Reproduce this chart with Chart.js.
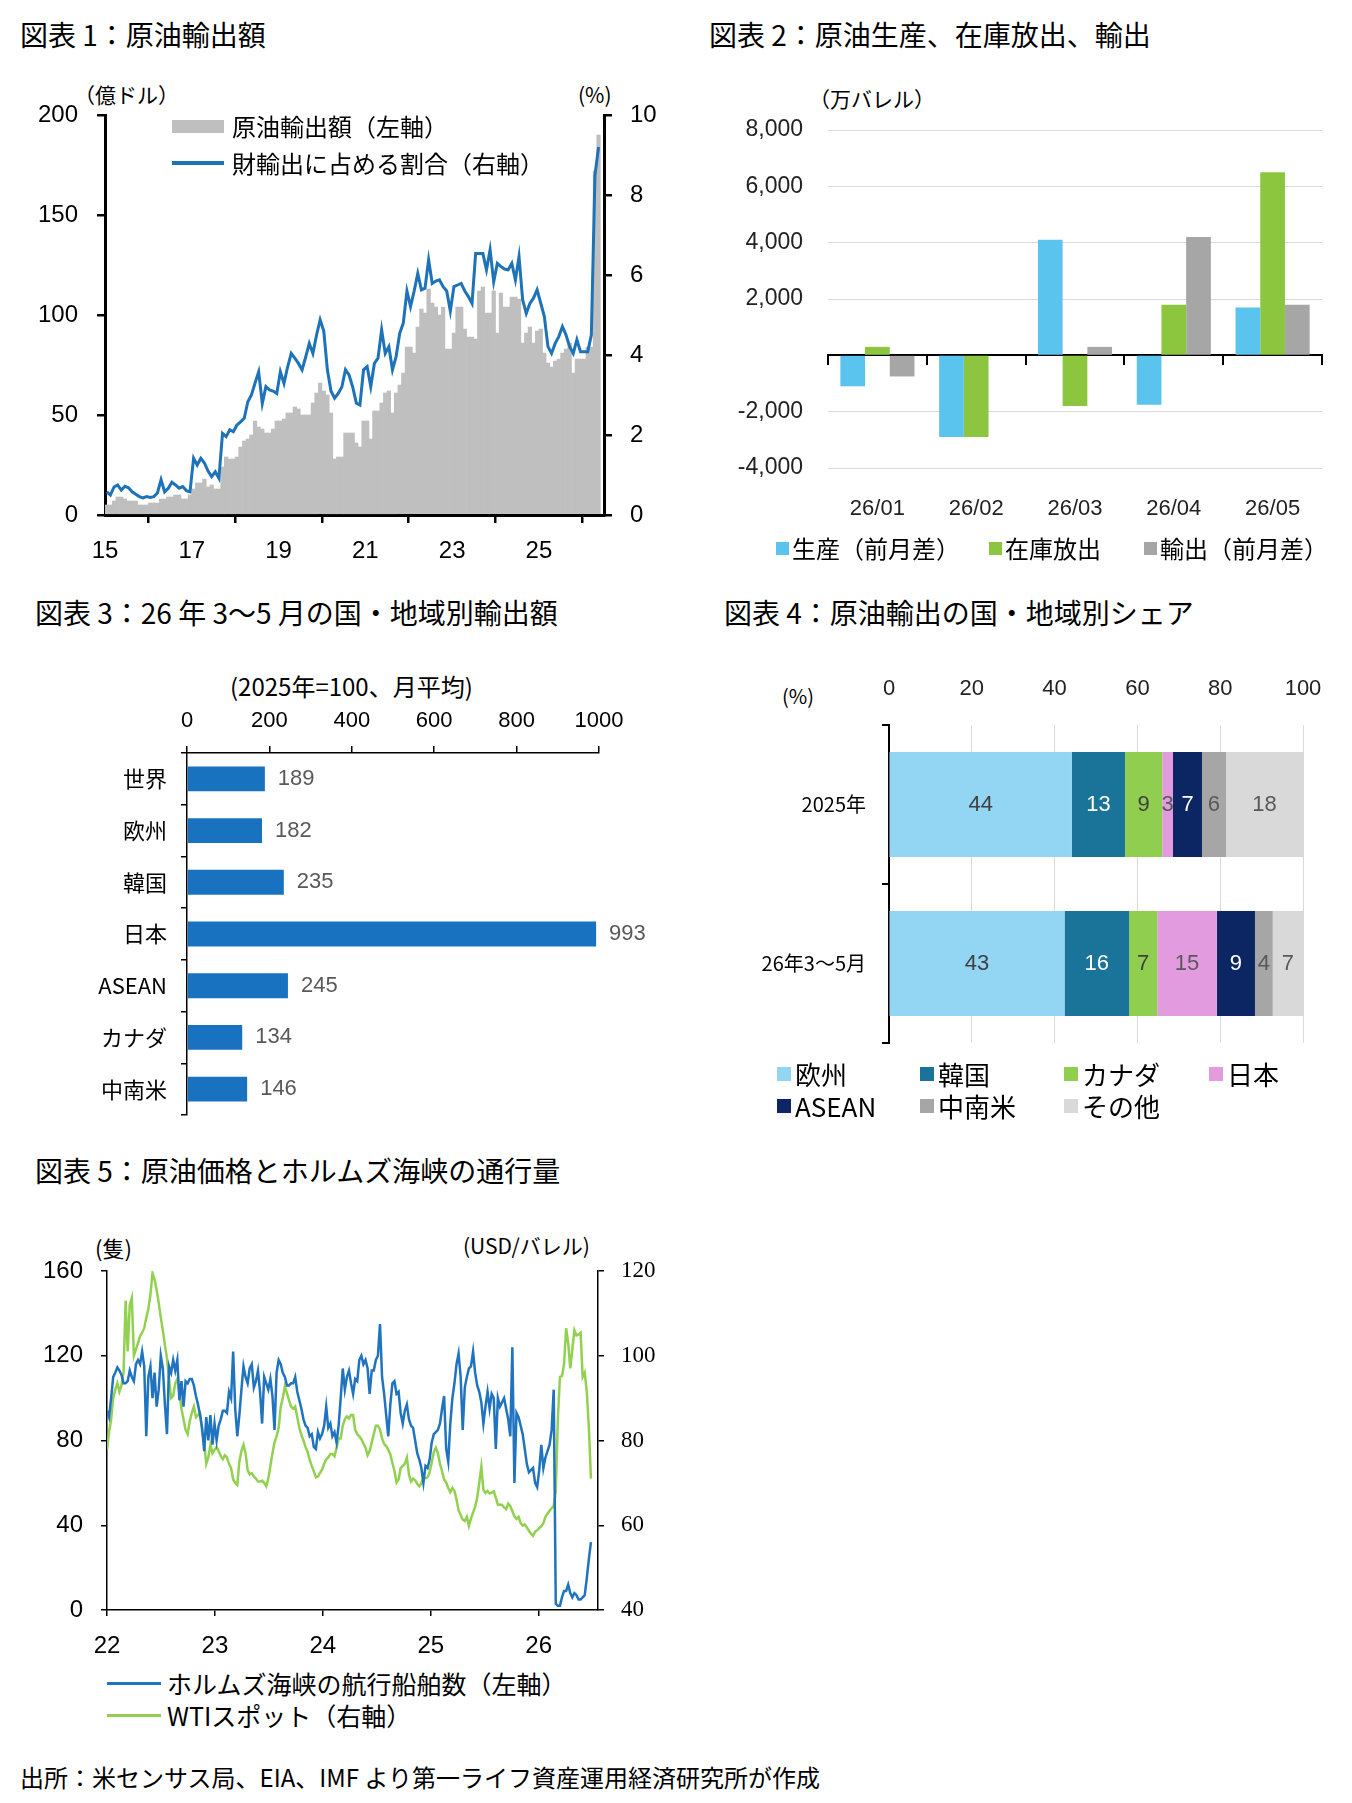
<!DOCTYPE html>
<html lang="ja">
<head>
<meta charset="utf-8">
<script src="https://cdn.jsdelivr.net/npm/chart.js@4.4.1/dist/chart.umd.min.js"></script>
<style>
  body { margin: 0; background: #fff; }
  #page { position: relative; width: 1352px; height: 1803px; overflow: hidden; background: #fff;
          font-family: "Noto Sans CJK JP", sans-serif; color: #000; }
  #page canvas { position: absolute; }
  .title { position: absolute; font-size: 28px; line-height: 1; white-space: nowrap; }
  .unit { position: absolute; font-size: 20px; line-height: 1; white-space: nowrap; }
  .lg { position: absolute; line-height: 1; white-space: nowrap; display: flex; align-items: center; }
  .sw { display: inline-block; flex: none; }
</style>
</head>
<body>
<div id="page">
  <div class="title" style="left:20px;top:20px">図表 1：原油輸出額</div>
  <div class="title" style="left:709px;top:20px">図表 2：原油生産、在庫放出、輸出</div>
  <div class="title" style="left:35px;top:598px">図表 3：26 年 3～5 月の国・地域別輸出額</div>
  <div class="title" style="left:724px;top:598px">図表 4：原油輸出の国・地域別シェア</div>
  <div class="title" style="left:35px;top:1156px">図表 5：原油価格とホルムズ海峡の通行量</div>
  <div class="title" style="left:20px;top:1765px;font-size:24px">出所：米センサス局、EIA、IMF より第一ライフ資産運用経済研究所が作成</div>

  <div class="unit" style="left:74px;top:84px;font-size:21px">（億ドル）</div>
  <div class="unit" style="left:578px;top:84px;font-size:21px">(%)</div>
  <div class="unit" style="left:809px;top:88px;font-size:21px">（万バレル）</div>
  <div class="unit" style="left:230px;top:674px;font-size:24px">(2025年=100、月平均)</div>
  <div class="unit" style="left:782px;top:686px">(%)</div>
  <div class="unit" style="left:95px;top:1236px;font-size:22px">(隻)</div>
  <div class="unit" style="left:463px;top:1235px;font-size:21px">(USD/バレル)</div>

  <canvas id="c1" width="680" height="500" style="left:0;top:80px"></canvas>
  <canvas id="c2" width="662" height="500" style="left:690px;top:80px"></canvas>
  <canvas id="c3" width="680" height="510" style="left:0;top:640px"></canvas>
  <canvas id="c4" width="662" height="443" style="left:690px;top:640px"></canvas>
  <canvas id="c5" width="680" height="430" style="left:0;top:1230px"></canvas>
</div>
<script>
// ---------- data ----------
// 図表1: monthly, 2015/01 - 2026/05
const exportYearTicks = [2015, 2017, 2019, 2021, 2023, 2025];
const crudeExportValue = [
  5, 5, 7, 9, 9, 8, 7, 7, 7, 5, 5, 5,
  6, 6, 6, 8, 8, 9, 9, 10, 10, 8, 8, 10,
  13, 16, 16, 18, 14, 15, 13, 13, 24, 29, 28, 28,
  29, 34, 37, 38, 40, 47, 44, 43, 41, 41, 43, 47,
  47, 48, 51, 51, 54, 53, 50, 50, 50, 56, 61, 66,
  62, 60, 51, 28, 29, 29, 41, 41, 41, 36, 34, 47,
  47, 38, 52, 52, 56, 61, 62, 51, 61, 65, 71, 84,
  84, 81, 94, 103, 101, 113, 106, 104, 100, 104, 83, 83,
  91, 104, 104, 93, 89, 89, 88, 112, 114, 101, 101, 112,
  91, 111, 104, 104, 109, 109, 108, 86, 91, 94, 86, 92,
  93, 81, 76, 74, 77, 78, 81, 83, 86, 71, 78, 78,
  78, 84, 84, 172, 190
];
const crudeExportShare = [
  0.58, 0.50, 0.70, 0.75, 0.62, 0.72, 0.68, 0.58, 0.52, 0.46, 0.43, 0.46,
  0.44, 0.46, 0.55, 0.88, 0.58, 0.67, 0.82, 0.75, 0.67, 0.71, 0.61, 0.58,
  1.42, 1.25, 1.42, 1.30, 1.10, 0.96, 1.08, 0.92, 2.04, 1.96, 2.13, 2.08,
  2.25, 2.33, 2.42, 2.83, 3.00, 3.30, 3.58, 2.79, 3.21, 3.13, 3.10, 3.04,
  3.58, 3.29, 3.70, 4.04, 3.92, 3.79, 3.63, 3.95, 4.29, 4.04, 4.50, 4.88,
  4.60, 3.63, 3.10, 2.92, 3.04, 3.20, 3.63, 3.50, 3.20, 2.80, 2.75, 3.63,
  3.71, 3.21, 3.79, 3.92, 4.63, 4.04, 4.21, 3.63, 3.96, 4.54, 4.80, 5.60,
  5.21, 5.60, 6.04, 5.63, 5.67, 6.38, 5.79, 5.85, 5.88, 5.71, 5.60, 5.10,
  5.71, 5.75, 5.79, 5.60, 5.46, 5.29, 6.54, 6.54, 6.54, 6.13, 6.63, 5.83,
  6.29, 6.21, 6.15, 6.13, 6.29, 5.88, 6.46, 5.38, 5.04, 5.29, 5.42, 5.63,
  5.30, 4.96, 4.21, 4.04, 4.29, 4.46, 4.71, 4.50, 4.21, 4.04, 4.38, 4.08,
  4.08, 4.08, 4.50, 8.50, 9.20
];

// 図表2
const supplyMonths = ['26/01', '26/02', '26/03', '26/04', '26/05'];
const productionChange = [-1100, -2900, 4100, -1750, 1700];
const stockRelease = [300, -2900, -1800, 1800, 6500];
const exportChange = [-750, 0, 300, 4200, 1800];

// 図表3
const exportRegions = ['世界', '欧州', '韓国', '日本', 'ASEAN', 'カナダ', '中南米'];
const exportIndex = [189, 182, 235, 993, 245, 134, 146];

// 図表4
const sharePeriods = ['2025年', '26年3～5月'];
const shareRegions = ['欧州', '韓国', 'カナダ', '日本', 'ASEAN', '中南米', 'その他'];
const share2025 = [44.2, 12.8, 9.0, 2.6, 7.0, 5.8, 18.6];
const share2026 = [42.4, 15.6, 6.8, 14.4, 9.2, 4.3, 7.3];
const shareText2025 = ['44', '13', '9', '3', '7', '6', '18'];
const shareText2026 = ['43', '16', '7', '15', '9', '4', '7'];

// 図表5: weekly from 2022/01
const shipYearTicks = [2022, 2023, 2024, 2025, 2026];
const shipTransits = [
  94, 91, 100, 110, 112, 114.5, 113, 111, 107, 107,
  108, 113, 110, 108, 116, 118, 116, 122, 115, 82,
  110, 115, 100, 112, 96, 104, 120, 114, 97, 83,
  115, 112, 118, 113, 118, 99, 108, 96, 108, 107,
  109, 109, 106, 101, 97, 92, 86, 75, 91, 80,
  92, 78, 88, 80, 87, 90, 94, 94, 93, 103,
  100, 122, 95, 82, 92, 104, 115, 110, 107, 114,
  116, 105, 108, 113, 103, 88, 110, 107, 104, 109,
  101, 85, 112, 118, 116, 112, 110, 106, 106, 107,
  107, 110, 103, 99, 95, 90, 87, 86, 82, 83,
  77, 76, 84, 81, 83, 87, 96, 86, 88, 82,
  84, 79, 87, 100, 114, 104, 110, 113, 107, 102,
  109, 108, 118, 120, 116, 118, 114, 102, 113, 113,
  118, 120, 135, 110, 102, 92, 82, 97, 107, 108,
  102, 103, 93, 88, 94, 97, 90, 87, 86, 80,
  74, 71, 67, 60, 68, 67, 71, 79, 83, 84,
  85, 88, 95, 101, 76, 70, 88, 100, 107, 116,
  121, 110, 85, 105, 110, 114, 115, 122, 112, 106,
  103, 98, 88, 96, 103, 95, 102, 100, 76, 100,
  96, 98, 100, 95, 90, 82, 124, 60, 93, 91,
  87, 83, 76, 69, 65, 66, 67, 60, 58, 66,
  78, 67, 72, 75, 78, 85, 104, 3, 2, 2,
  6, 9, 9, 12, 8, 6, 8, 7, 5, 5,
  6, 7, 15, 24, 32
];
const wtiSpot = [
  77.8, 82, 85, 90, 92, 93.5, 91.5, 93, 96, 113,
  101, 112, 113.7, 100, 101.5, 103, 104.6, 105.5, 106.5, 109,
  111, 114.5, 119.5, 118, 115.5, 112.5, 109, 106, 102.5, 99.5,
  94.5, 90, 90.5, 93.5, 94.5, 91.5, 87.5, 85, 82.5, 81.5,
  84.5, 86.5, 88, 85.5, 86, 86.5, 82, 79.5, 74.5, 76,
  79, 77, 77.8, 78.5, 77.5, 76.3, 75.6, 76.5, 76, 74.5,
  73.5, 70.8, 70, 69.5, 75, 77.5, 79, 77, 73, 72,
  72.3, 71.5, 71, 70.3, 70.3, 70.5, 70, 69.2, 71, 74,
  77, 79.5, 81, 83, 88, 90, 92.8, 91.2, 89.5, 88,
  87.5, 88, 85.5, 83, 81.3, 80, 78.5, 77.3, 75.4, 74,
  72.7, 71.3, 71.5, 72.4, 73.1, 74.5, 75.5, 76, 76.8, 76.8,
  76.3, 78.3, 80.5, 80.5, 83.5, 85, 85.7, 85.2, 86, 86,
  82.5, 81.5, 81, 80.3, 79.3, 78.3, 76.5, 77.5, 79.5, 81.5,
  83.5, 83.5, 82.6, 80.5, 79.2, 78.7, 77.8, 76.7, 74.7, 72.8,
  70.1, 70.8, 73.5, 74, 74.5, 76, 72, 70.3, 71, 70.6,
  69.8, 69.2, 69.9, 71.2, 71.1, 71.3, 72.5, 74.8, 77.2, 78.3,
  77, 74.5, 72.8, 70.8, 70.1, 68.8, 67.8, 68.8, 68.1, 66.1,
  63.5, 62.4, 61.3, 61, 62, 59.8, 61.6, 63, 64.4, 66.5,
  70, 73.8, 68.4, 67.6, 68.1, 67.5, 67.7, 68, 66.5, 64.8,
  64.9, 64.8, 64.2, 63.8, 65.1, 64.5, 63.3, 62.1, 61.5, 62,
  60.5, 59.9, 60.2, 59.5, 58.7, 58, 57.5, 58.5, 58.8, 59.3,
  59.8, 60.5, 62, 62.7, 63.4, 64, 64.6, 68, 85, 95,
  95.2, 98, 106.5, 103, 97, 101.5, 106, 104.8, 105, 105.4,
  95, 96, 91.5, 83, 71
];

// ---------- helpers ----------
const SANS = '"Liberation Sans", Arial, sans-serif';
const JP = '"Noto Sans CJK JP", sans-serif';
Chart.defaults.font.family = SANS;
Chart.defaults.color = '#000';
Chart.defaults.animation = false;
Chart.defaults.responsive = false;
Chart.defaults.plugins.legend.display = false;
Chart.defaults.plugins.tooltip.enabled = false;

const page = document.getElementById('page');

// legend drawn as html, one item per dataset
function addLegend(chart, spots, swatches, fontSize) {
  chart.data.datasets.forEach((ds, i) => {
    const item = document.createElement('div');
    item.className = 'lg';
    item.style.left = spots[i][0] + 'px';
    item.style.top = (spots[i][1] - fontSize / 2) + 'px';
    item.style.fontSize = fontSize + 'px';
    const sw = document.createElement('span');
    const s = swatches[i] || swatches[0];
    sw.className = 'sw';
    sw.style.width = s.w + 'px';
    sw.style.height = s.h + 'px';
    sw.style.marginRight = s.gap + 'px';
    sw.style.background = ds.type === 'line' || s.line ? ds.borderColor : ds.backgroundColor;
    item.appendChild(sw);
    item.appendChild(document.createTextNode(ds.label));
    page.appendChild(item);
  });
}

const monthX = crudeExportValue.map((_, i) => 2015 + (i + 0.5) / 12);
const weekX = shipTransits.map((_, i) => 2022 + i * 7 / 365.25);

// ---------- 図表1 ----------
const chart1 = new Chart(document.getElementById('c1'), {
  type: 'bar',
  data: {
    datasets: [
      {
        type: 'bar', label: '原油輸出額（左軸）', yAxisID: 'y', order: 1,
        data: monthX.map((x, i) => ({ x, y: crudeExportValue[i] })),
        backgroundColor: '#bfbfbf', borderWidth: 0, barPercentage: 1, categoryPercentage: 1
      },
      {
        type: 'line', label: '財輸出に占める割合（右軸）', yAxisID: 'y2', order: 0,
        data: monthX.map((x, i) => ({ x, y: crudeExportShare[i] })),
        borderColor: '#1d72b8', borderWidth: 3, pointRadius: 0, tension: 0
      }
    ]
  },
  options: {
    layout: { padding: { top: 35, left: 0, right: 0, bottom: 0 } },
    scales: {
      x: {
        type: 'linear', min: 2015, max: 2026.5, offset: false,
        grid: { drawOnChartArea: false, color: '#000', lineWidth: 2.5, tickLength: 8 },
        border: { color: '#000', width: 3 },
        ticks: { font: { size: 24 }, padding: 14, callback: v => String(v).slice(2) },
        afterBuildTicks: s => { s.ticks = exportYearTicks.map(v => ({ value: v })); },
        afterFit: s => { s.height = 65; }
      },
      y: {
        position: 'left', min: 0, max: 200,
        grid: { drawOnChartArea: false, color: '#000', lineWidth: 2.5, tickLength: 8 },
        border: { color: '#000', width: 3 },
        ticks: { stepSize: 50, font: { size: 24 }, padding: 19 },
        afterFit: s => { s.width = 105; }
      },
      y2: {
        position: 'right', min: 0, max: 10,
        grid: { drawOnChartArea: false, color: '#000', lineWidth: 2.5, tickLength: 8 },
        border: { color: '#000', width: 3 },
        ticks: { stepSize: 2, font: { size: 24 }, padding: 18 },
        afterFit: s => { s.width = 76; }
      }
    }
  }
});
addLegend(chart1, [[172, 126], [172, 163]],
  [{ w: 52, h: 13, gap: 8 }, { w: 52, h: 4, gap: 8, line: true }], 24);

// ---------- 図表2 ----------
const chart2 = new Chart(document.getElementById('c2'), {
  type: 'bar',
  data: {
    labels: supplyMonths,
    datasets: [
      { label: '生産（前月差）', data: productionChange, backgroundColor: '#5bc4ee' },
      { label: '在庫放出', data: stockRelease, backgroundColor: '#8cc63f' },
      { label: '輸出（前月差）', data: exportChange, backgroundColor: '#a6a6a6' }
    ]
  },
  options: {
    layout: { padding: { top: 50, left: 0, right: 30, bottom: 0 } },
    datasets: { bar: { categoryPercentage: 0.75, barPercentage: 1 } },
    scales: {
      x: {
        type: 'category', position: 'bottom', offset: true,
        grid: { display: false }, border: { display: false },
        ticks: { font: { size: 22 }, color: '#222', padding: 20 },
        afterFit: s => { s.height = 112; }
      },
      xZero: {
        type: 'category', position: { y: 0 }, offset: true,
        grid: { drawOnChartArea: false, offset: true, color: '#000', lineWidth: 2, tickLength: 9 },
        border: { color: '#000', width: 2 },
        ticks: { display: false }
      },
      y: {
        min: -4000, max: 8000,
        grid: { color: '#d9d9d9', lineWidth: 1, drawTicks: false },
        border: { display: false },
        ticks: {
          stepSize: 2000, font: { size: 23 }, color: '#222', padding: 25,
          callback: v => (v === 0 ? '' : v.toLocaleString('en-US'))
        },
        afterFit: s => { s.width = 138; }
      }
    }
  }
});
addLegend(chart2, [[776, 548], [989, 548], [1144, 548]], [{ w: 13, h: 13, gap: 3 }], 24);

// ---------- 図表3 ----------
const barValueLabels = {
  id: 'barValueLabels',
  afterDatasetsDraw(chart) {
    const { ctx } = chart;
    ctx.save();
    ctx.font = '22px ' + SANS;
    ctx.fillStyle = '#595959';
    ctx.textAlign = 'left';
    ctx.textBaseline = 'middle';
    chart.getDatasetMeta(0).data.forEach((bar, i) => {
      ctx.fillText(String(exportIndex[i]), bar.x + 13, bar.y);
    });
    ctx.restore();
  }
};
new Chart(document.getElementById('c3'), {
  type: 'bar',
  data: {
    labels: exportRegions,
    datasets: [{ data: exportIndex, backgroundColor: '#1872c0', barPercentage: 0.48, categoryPercentage: 1 }]
  },
  options: {
    indexAxis: 'y',
    layout: { padding: { top: 0, left: 0, right: 81, bottom: 35 } },
    scales: {
      x: {
        position: 'top', min: 0, max: 1000,
        grid: { drawOnChartArea: false, color: '#000', lineWidth: 1.5, tickLength: 7 },
        border: { color: '#000', width: 1.5 },
        ticks: { stepSize: 200, font: { size: 22 }, padding: 12, callback: v => String(v) },
        afterFit: s => { s.height = 113; }
      },
      y: {
        offset: true,
        grid: { drawOnChartArea: false, offset: true, color: '#000', lineWidth: 1.5, tickLength: 6 },
        border: { color: '#000', width: 1.5 },
        ticks: { font: { size: 22, family: JP }, padding: 14 },
        afterFit: s => { s.width = 187; }
      }
    }
  },
  plugins: [barValueLabels]
});

// ---------- 図表4 ----------
const shareColors = ['#93d6f4', '#1a7399', '#8fce4f', '#e39be0', '#0c2563', '#a6a6a6', '#d9d9d9'];
const shareTextColors = ['#404040', '#ffffff', '#404040', '#595959', '#ffffff', '#595959', '#595959'];
const shareText = [shareText2025, shareText2026];
const segmentLabels = {
  id: 'segmentLabels',
  afterDatasetsDraw(chart) {
    const { ctx } = chart;
    ctx.save();
    ctx.font = '22px ' + SANS;
    ctx.textAlign = 'center';
    ctx.textBaseline = 'middle';
    chart.data.datasets.forEach((ds, d) => {
      chart.getDatasetMeta(d).data.forEach((bar, i) => {
        ctx.fillStyle = shareTextColors[d];
        ctx.fillText(shareText[i][d], (bar.x + bar.base) / 2, bar.y);
      });
    });
    ctx.restore();
  }
};
const chart4 = new Chart(document.getElementById('c4'), {
  type: 'bar',
  data: {
    labels: sharePeriods,
    datasets: shareRegions.map((name, k) => ({
      label: name,
      data: [share2025[k], share2026[k]],
      backgroundColor: shareColors[k],
      categoryPercentage: 0.66, barPercentage: 1
    }))
  },
  options: {
    indexAxis: 'y',
    layout: { padding: { top: 0, left: 0, right: 49, bottom: 40 } },
    scales: {
      x: {
        position: 'top', stacked: true, min: 0, max: 100,
        grid: { color: '#d9d9d9', lineWidth: 1, drawTicks: false },
        border: { display: false },
        ticks: { stepSize: 20, font: { size: 22 }, color: '#222', padding: 23 },
        afterFit: s => { s.height = 85; }
      },
      y: {
        stacked: true, offset: true,
        grid: { drawOnChartArea: false, offset: true, color: '#000', lineWidth: 2, tickLength: 7 },
        border: { color: '#000', width: 2 },
        ticks: { font: { size: 20, family: JP }, padding: 16 },
        afterFit: s => { s.width = 199; }
      }
    }
  },
  plugins: [segmentLabels]
});
addLegend(chart4,
  [[777, 1074], [920, 1074], [1064, 1074], [1209, 1074], [777, 1106], [920, 1106], [1064, 1106]],
  [{ w: 14, h: 14, gap: 4 }], 26);

// ---------- 図表5 ----------
const chart5 = new Chart(document.getElementById('c5'), {
  type: 'line',
  data: {
    datasets: [
      {
        label: 'ホルムズ海峡の航行船舶数（左軸）', yAxisID: 'y',
        data: weekX.map((x, i) => ({ x, y: shipTransits[i] })),
        borderColor: '#1f73bf', borderWidth: 2.5, pointRadius: 0, tension: 0
      },
      {
        label: 'WTIスポット（右軸）', yAxisID: 'y2',
        data: weekX.map((x, i) => ({ x, y: wtiSpot[i] })),
        borderColor: '#92d050', borderWidth: 2.5, pointRadius: 0, tension: 0
      }
    ]
  },
  options: {
    layout: { padding: { top: 41, left: 0, right: 0, bottom: 0 } },
    scales: {
      x: {
        type: 'linear', min: 2022, max: 2026.55,
        grid: { drawOnChartArea: false, color: '#000', lineWidth: 1.5, tickLength: 6 },
        border: { color: '#000', width: 1.5 },
        ticks: { font: { size: 24 }, padding: 16, callback: v => String(v).slice(2) },
        afterBuildTicks: s => { s.ticks = shipYearTicks.map(v => ({ value: v })); },
        afterFit: s => { s.height = 50; }
      },
      y: {
        position: 'left', min: 0, max: 160,
        grid: { drawOnChartArea: false, color: '#000', lineWidth: 1.5, tickLength: 6 },
        border: { color: '#000', width: 1.5 },
        ticks: { stepSize: 40, font: { size: 24 }, padding: 18 },
        afterFit: s => { s.width = 107; }
      },
      y2: {
        position: 'right', min: 40, max: 120,
        grid: { drawOnChartArea: false, color: '#000', lineWidth: 1.5, tickLength: 6 },
        border: { color: '#000', width: 1.5 },
        ticks: { stepSize: 20, font: { size: 23, family: '"Liberation Serif", serif' }, padding: 17 },
        afterFit: s => { s.width = 82; }
      }
    }
  }
});
addLegend(chart5, [[107, 1683], [107, 1715]], [{ w: 54, h: 3, gap: 6, line: true }], 25);
</script>
</body>
</html>
